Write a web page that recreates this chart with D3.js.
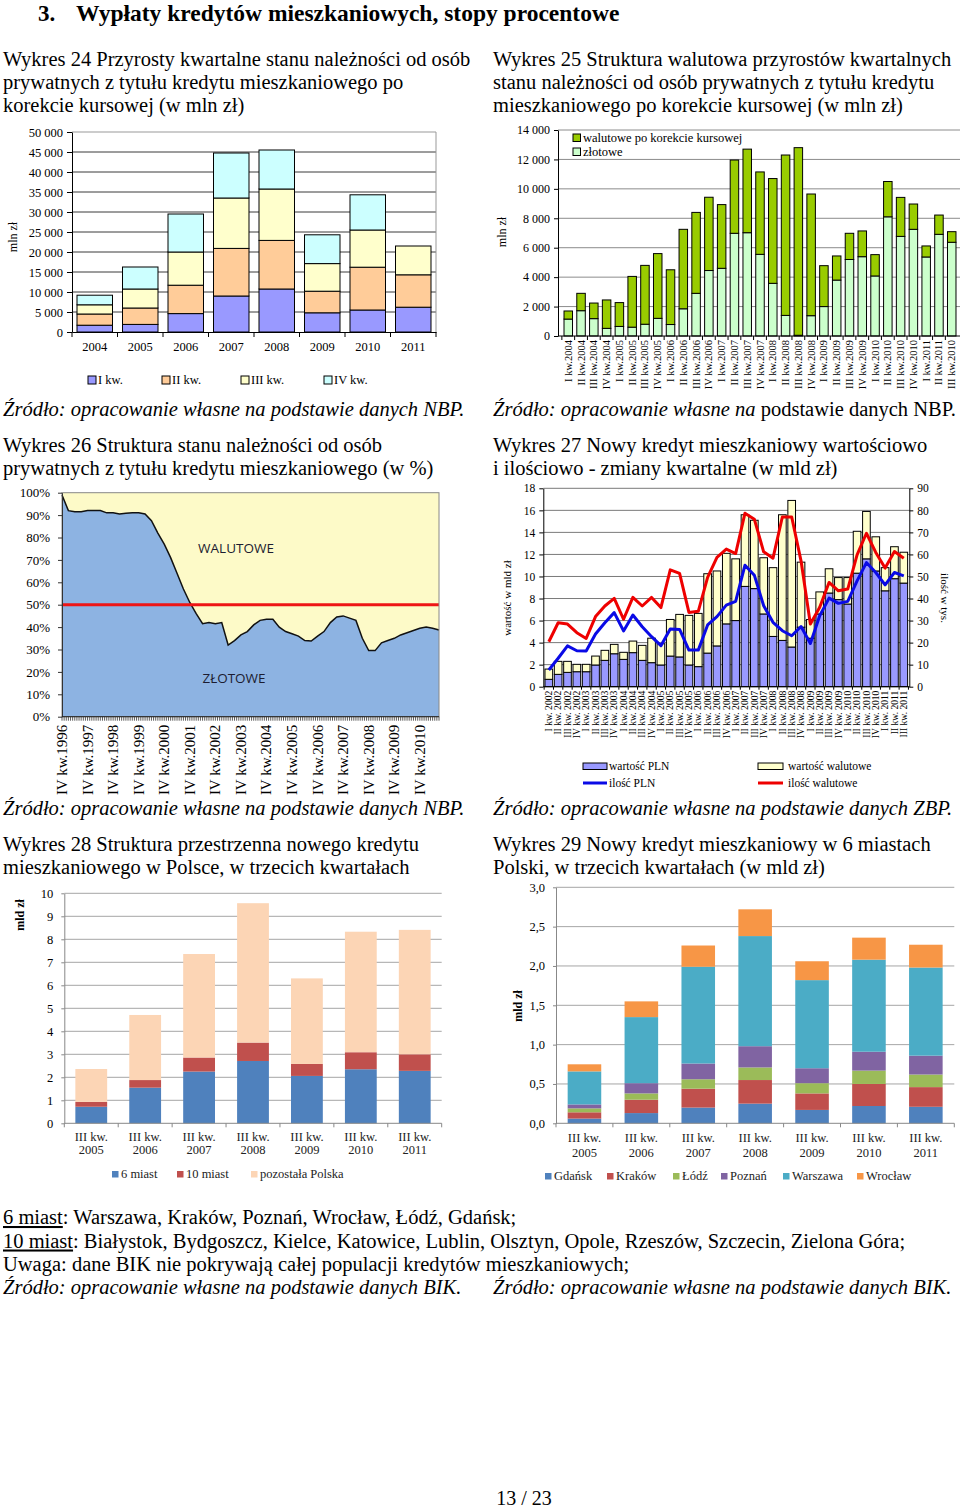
<!DOCTYPE html>
<html><head><meta charset="utf-8">
<script src="https://cdn.jsdelivr.net/npm/d3@7"></script>
<style>
body{margin:0;background:#fff;}
svg{display:block;}
</style></head><body>
<svg id="page" width="960" height="1511"></svg>
<script>
// ---------- DATA ----------
// Wykres 24
const years24 = ["2004","2005","2006","2007","2008","2009","2010","2011"];
const kw1_24 = [1700,1900,4600,9000,10750,4800,5500,6200];
const kw2_24 = [2800,4100,7100,11900,12150,5400,10700,8100];
const kw3_24 = [2300,4750,8300,12600,12850,6900,9300,7200];
const kw4_24 = [2400,5500,9500,11250,9750,7200,8800,0];
const legend24 = ["I kw.","II kw.","III kw.","IV kw."];
const ticks24 = [0,5000,10000,15000,20000,25000,30000,35000,40000,45000,50000];

// Wykres 25
const quarters25 = ["I kw.2004","II kw.2004","III kw.2004","IV kw.2004","I kw.2005","II kw.2005","III kw.2005","IV kw.2005",
  "I kw.2006","II kw.2006","III kw.2006","IV kw.2006","I kw.2007","II kw.2007","III kw.2007","IV kw.2007",
  "I kw.2008","II kw.2008","III kw.2008","IV kw.2008","I kw.2009","II kw.2009","III kw.2009","IV kw.2009",
  "I kw.2010","II kw.2010","III kw.2010","IV kw.2010","I kw.2011","II kw.2011","III kw.2010"];
const zlotowe25 = [1150,1720,1180,520,650,600,800,1200,780,1850,2900,4450,4600,6980,7020,5550,3580,1400,50,1380,2000,3800,5200,5390,4080,8100,6770,7250,5370,6910,6370];
const walutowe25 = [550,1180,1060,1930,1620,3450,4000,4400,3720,5400,5500,4980,4330,4980,5680,5600,7120,10900,12750,8270,2780,1640,1780,1750,1450,2400,2650,1720,750,1310,720];
const legend25 = ["walutowe po korekcie kursowej","złotowe"];
const ticks25 = [0,2000,4000,6000,8000,10000,12000,14000];

// Wykres 26 (udział złotowych, kwartalnie od IV kw.1996)
const zlotowe26 = [99,92,91.5,91.5,92,92,92,91,91,90.5,90.8,91,91,90.5,87.5,82,77,71,64,57,51,46,41.5,42,41.5,42,32,34,36.5,38,41,43,43.5,43.5,40,38,37,36,34,33.8,36,38,42,44.5,45,44,43,35,29.5,29.5,33,34,35,36.5,37.5,38.5,39.5,40,39.5,38.7];
const labels26 = ["IV kw.1996","IV kw.1997","IV kw.1998","IV kw.1999","IV kw.2000","IV kw.2001","IV kw.2002","IV kw.2003","IV kw.2004","IV kw.2005","IV kw.2006","IV kw.2007","IV kw.2008","IV kw.2009","IV kw.2010"];
const ticks26 = [0,10,20,30,40,50,60,70,80,90,100];

// Wykres 27
const quarters27 = ["I kw. 2002","II kw. 2002","III kw. 2002","IV kw. 2002","I kw. 2003","II kw. 2003","III kw. 2003","IV kw. 2003",
  "I kw. 2004","II kw. 2004","III kw. 2004","IV kw. 2004","I kw. 2005","II kw. 2005","III kw. 2005","IV kw. 2005",
  "I kw. 2006","II kw. 2006","III kw. 2006","IV kw. 2006","I kw. 2007","II kw. 2007","III kw. 2007","IV kw. 2007",
  "I kw. 2008","II kw. 2008","III kw. 2008","IV kw. 2008","I kw. 2009","II kw. 2009","III kw. 2009","IV kw. 2009",
  "I kw. 2010","II kw. 2010","III kw. 2010","IV kw. 2010","I kw. 2011","II kw. 2011","III kw. 2011"];
const wartoscPLN27 = [0.67,1.12,1.3,1.36,1.36,1.97,2.39,2.99,2.48,3.09,2.39,2.18,1.97,2.78,2.7,1.97,1.82,3.05,3.7,5.7,6.0,9.1,8.9,6.6,4.56,4.2,3.6,5.4,4.4,6.6,8.5,7.9,7.5,10.3,11.6,10.5,8.7,9.8,9.4];
const wartoscWal27 = [0.93,1.18,1.0,0.67,0.67,0.81,0.91,0.85,0.64,1.05,1.36,2.22,1.93,3.32,3.86,4.5,4.83,7.2,6.8,6.4,5.6,6.5,6.2,5.1,6.24,11.4,13.3,5.9,1.7,2.0,2.2,2.0,2.4,3.8,4.3,3.1,2.1,2.9,2.8];
const iloscPLN27 = [7.6,12.9,18.5,16.3,16.2,23.9,29,33.6,25.3,32.5,27.2,22.7,18.6,26.2,26,16.6,16.6,28,31.8,37,38.7,55.1,50.6,36.7,29.2,25.4,23.1,27.3,19.6,32.2,40.2,37.8,38.7,48,56.3,51.8,46.2,51.8,50.3];
const iloscWal27 = [20.4,29,28.4,24.5,21.9,31.8,36.6,40.1,30.6,40.5,36.6,40.5,35.9,53,51.4,33.7,34.2,49.6,58.7,62.4,60.4,78.7,76,61.2,58.3,77,77,57.1,28.4,36,47.3,43.5,44.3,59.8,69.6,60.9,53.8,61.3,58.3];
const ticksL27 = [0,2,4,6,8,10,12,14,16,18];
const ticksR27 = [0,10,20,30,40,50,60,70,80,90];

// Wykres 28
const years28 = ["2005","2006","2007","2008","2009","2010","2011"];
const miast6_28 = [0.72,1.55,2.25,2.71,2.06,2.35,2.28];
const miast10_28 = [0.21,0.33,0.61,0.80,0.52,0.74,0.72];
const pozostala28 = [1.43,2.83,4.50,6.06,3.72,5.24,5.41];
const legend28 = ["6 miast","10 miast","pozostała Polska"];
const ticks28 = [0,1,2,3,4,5,6,7,8,9,10];

// Wykres 29
const years29 = ["2005","2006","2007","2008","2009","2010","2011"];
const gdansk29 = [0.06,0.13,0.20,0.25,0.17,0.22,0.21];
const krakow29 = [0.08,0.17,0.24,0.30,0.21,0.28,0.25];
const lodz29 = [0.05,0.08,0.12,0.16,0.13,0.17,0.16];
const poznan29 = [0.05,0.13,0.20,0.27,0.19,0.24,0.24];
const warszawa29 = [0.42,0.84,1.23,1.40,1.12,1.17,1.12];
const wroclaw29 = [0.09,0.20,0.27,0.34,0.24,0.28,0.29];
const cities29 = ["Gdańsk","Kraków","Łódź","Poznań","Warszawa","Wrocław"];
const ticks29 = [0,0.5,1,1.5,2,2.5,3];

// ---------- HELPERS ----------
const svg = d3.select("#page");
const SERIF = '"Liberation Serif","Times New Roman",serif';
const SANS = '"Open Sans","Liberation Sans",sans-serif';
const loc = d3.formatLocale({decimal:",", thousands:" ", grouping:[3], currency:["",""]});
const fmtSpace = loc.format(",d");
const fmtComma = loc.format(".1f");

function T(x,y,s,o={}) {
  const t = svg.append("text").attr("x",x).attr("y",y)
    .attr("font-family", o.family||SERIF).attr("font-size", o.size||18)
    .attr("fill", o.fill||"#000");
  if (o.anchor) t.attr("text-anchor", o.anchor);
  if (o.italic) t.attr("font-style","italic");
  if (o.bold) t.attr("font-weight","bold");
  if (o.rotate) t.attr("transform", `rotate(${o.rotate},${x},${y})`);
  t.text(s);
  return t;
}
function styleAxis(g, size, color) {
  g.attr("font-family", SERIF).attr("font-size", size);
  g.selectAll("text").attr("fill","#000");
  g.selectAll("line").attr("stroke", color);
  g.select(".domain").attr("stroke", color);
}

// ---------- PAGE TEXT ----------
const FS = 20.5;
T(38,20.5,"3.",{size:23,bold:true});
T(76,20.5,"Wypłaty kredytów mieszkaniowych, stopy procentowe",{size:23.5,bold:true});

T(3,65.5,"Wykres 24 Przyrosty kwartalne stanu należności od osób",{size:FS});
T(3,88.5,"prywatnych z tytułu kredytu mieszkaniowego po",{size:FS});
T(3,111.5,"korekcie kursowej (w mln zł)",{size:FS});
T(493,65.5,"Wykres 25 Struktura walutowa przyrostów kwartalnych",{size:FS});
T(493,88.5,"stanu należności od osób prywatnych z tytułu kredytu",{size:FS});
T(493,111.5,"mieszkaniowego po korekcie kursowej (w mln zł)",{size:FS});

T(3,416,"Źródło: opracowanie własne na podstawie danych NBP.",{size:FS,italic:true});
{
  const t = T(493,416,"",{size:FS});
  t.append("tspan").attr("font-style","italic").text("Źródło: opracowanie własne na");
  t.append("tspan").text(" podstawie danych NBP.");
}

T(3,452,"Wykres 26 Struktura stanu należności od osób",{size:FS});
T(3,475,"prywatnych z tytułu kredytu mieszkaniowego (w %)",{size:FS});
T(493,452,"Wykres 27 Nowy kredyt mieszkaniowy wartościowo",{size:FS});
T(493,475,"i ilościowo - zmiany kwartalne (w mld zł)",{size:FS});

T(3,815,"Źródło: opracowanie własne na podstawie danych NBP.",{size:FS,italic:true});
T(493,815,"Źródło: opracowanie własne na podstawie danych ZBP.",{size:FS,italic:true});

T(3,851,"Wykres 28 Struktura przestrzenna nowego kredytu",{size:FS});
T(3,874,"mieszkaniowego w Polsce, w trzecich kwartałach",{size:FS});
T(493,851,"Wykres 29 Nowy kredyt mieszkaniowy w 6 miastach",{size:FS});
T(493,874,"Polski, w trzecich kwartałach (w mld zł)",{size:FS});

{
  const t1 = T(3,1224,"",{size:FS});
  t1.append("tspan").attr("text-decoration","underline").text("6 miast");
  t1.append("tspan").text(": Warszawa, Kraków, Poznań, Wrocław, Łódź, Gdańsk;");
  const t2 = T(3,1247.5,"",{size:FS});
  t2.append("tspan").attr("text-decoration","underline").text("10 miast");
  t2.append("tspan").text(": Białystok, Bydgoszcz, Kielce, Katowice, Lublin, Olsztyn, Opole, Rzeszów, Szczecin, Zielona Góra;");
}
T(3,1271,"Uwaga: dane BIK nie pokrywają całej populacji kredytów mieszkaniowych;",{size:FS});
T(3,1294,"Źródło: opracowanie własne na podstawie danych BIK.",{size:FS,italic:true});
T(493,1294,"Źródło: opracowanie własne na podstawie danych BIK.",{size:FS,italic:true});
T(524,1505,"13 / 23",{size:20,anchor:"middle"});

// ---------- WYKRES 24 ----------
{
  const L=72,R=436,TP=132,B=332;
  const g = svg.append("g");
  const x = d3.scaleBand().domain(years24).range([L,R]).paddingInner(0.22).paddingOuter(0.11);
  const y = d3.scaleLinear().domain([0,50000]).range([B,TP]);
  g.append("g").selectAll("line").data(ticks24.slice(1)).join("line")
    .attr("x1",L).attr("x2",R).attr("y1",d=>y(d)).attr("y2",d=>y(d))
    .attr("stroke",d=>d===50000?"#999":"#3a3a3a").attr("stroke-width",1);
  g.append("line").attr("x1",R).attr("x2",R).attr("y1",TP).attr("y2",B).attr("stroke","#999");
  const rows = years24.map((yr,i)=>({yr, k1:kw1_24[i], k2:kw2_24[i], k3:kw3_24[i], k4:kw4_24[i]}));
  const st = d3.stack().keys(["k1","k2","k3","k4"])(rows);
  const cols = ["#9999ff","#ffcc99","#ffffcc","#ccffff"];
  st.forEach((s,si)=>{
    g.append("g").selectAll("rect").data(s.filter(d=>d[1]>d[0])).join("rect")
      .attr("x",d=>x(d.data.yr)).attr("width",x.bandwidth())
      .attr("y",d=>y(d[1])).attr("height",d=>y(d[0])-y(d[1]))
      .attr("fill",cols[si]).attr("stroke","#000").attr("stroke-width",1);
  });
  const ya = g.append("g").attr("transform",`translate(${L},0)`)
    .call(d3.axisLeft(y).tickValues(ticks24).tickFormat(fmtSpace).tickSize(5).tickPadding(4).tickSizeOuter(0));
  styleAxis(ya,12.5,"#000");
  const xa = g.append("g").attr("transform",`translate(0,${B})`)
    .call(d3.axisBottom(x).tickSize(0).tickPadding(10).tickSizeOuter(0));
  styleAxis(xa,12.5,"#000");
  g.append("g").selectAll("line").data(d3.range(years24.length+1)).join("line")
    .attr("x1",i=>L+i*x.step()).attr("x2",i=>L+i*x.step()).attr("y1",B).attr("y2",B+5).attr("stroke","#000");
  T(17,237,"mln zł",{size:12,anchor:"middle",rotate:-90});
  const lx = [88,162,241,324];
  legend24.forEach((s,i)=>{
    g.append("rect").attr("x",lx[i]).attr("y",376).attr("width",8).attr("height",8).attr("fill",cols[i]).attr("stroke","#000");
    T(lx[i]+10,384,s,{size:12.5});
  });
}

// ---------- WYKRES 25 ----------
{
  const L=558,R=962,TP=130,B=336;
  const g = svg.append("g");
  const x = d3.scaleBand().domain(d3.range(quarters25.length)).range([L,R]).paddingInner(0.335).paddingOuter(0.47);
  const y = d3.scaleLinear().domain([0,14000]).range([B,TP]);
  g.append("g").selectAll("line").data(ticks25.slice(1)).join("line")
    .attr("x1",L).attr("x2",960).attr("y1",d=>y(d)).attr("y2",d=>y(d))
    .attr("stroke","#8c8c8c").attr("stroke-width",1);
  const rows = quarters25.map((q,i)=>({i, zl:zlotowe25[i], wal:walutowe25[i]}));
  const st = d3.stack().keys(["zl","wal"])(rows);
  const cols = ["#ccffcc","#99cc00"];
  st.forEach((s,si)=>{
    g.append("g").selectAll("rect").data(s.filter(d=>d[1]>d[0])).join("rect")
      .attr("x",d=>x(d.data.i)).attr("width",x.bandwidth())
      .attr("y",d=>y(d[1])).attr("height",d=>y(d[0])-y(d[1]))
      .attr("fill",cols[si]).attr("stroke","#000").attr("stroke-width",1);
  });
  const ya = g.append("g").attr("transform",`translate(${L},0)`)
    .call(d3.axisLeft(y).tickValues(ticks25).tickFormat(fmtSpace).tickSize(4).tickPadding(4).tickSizeOuter(0));
  styleAxis(ya,12,"#000");
  g.append("line").attr("x1",L).attr("x2",960).attr("y1",B).attr("y2",B).attr("stroke","#000");
  g.append("g").selectAll("line").data(d3.range(quarters25.length)).join("line")
    .attr("x1",i=>x(i)-x.step()*x.paddingInner()/2).attr("x2",i=>x(i)-x.step()*x.paddingInner()/2)
    .attr("y1",B).attr("y2",B+4).attr("stroke","#000");
  g.append("g").selectAll("text").data(quarters25).join("text")
    .attr("transform",(d,i)=>`translate(${x(i)+x.bandwidth()/2+3.5},${B+4}) rotate(-90)`)
    .attr("text-anchor","end").attr("font-family",SERIF).attr("font-size",10.5).text(d=>d);
  T(506,232,"mln zł",{size:12,anchor:"middle",rotate:-90});
  const lc = [cols[1],cols[0]];
  legend25.forEach((s,i)=>{
    g.append("rect").attr("x",573).attr("y",134+i*14).attr("width",7.5).attr("height",7.5).attr("fill",lc[i]).attr("stroke","#000");
    T(583,142+i*14,s,{size:12.5});
  });
}

// ---------- WYKRES 26 ----------
{
  const L=62,R=439,TP=492.7,B=716.7;
  const g = svg.append("g");
  const x = d3.scaleLinear().domain([0,zlotowe26.length-1]).range([L,R]);
  const y = d3.scaleLinear().domain([0,100]).range([B,TP]);
  g.append("rect").attr("x",L).attr("y",TP).attr("width",R-L).attr("height",B-TP).attr("fill","#fdfac8");
  g.append("path").datum(zlotowe26)
    .attr("d",d3.area().x((d,i)=>x(i)).y0(B).y1(d=>y(d)))
    .attr("fill","#8db3e2");
  g.append("path").datum(zlotowe26)
    .attr("d",d3.line().x((d,i)=>x(i)).y(d=>y(d)))
    .attr("fill","none").attr("stroke","#111").attr("stroke-width",1.5);
  g.append("line").attr("x1",L).attr("x2",R).attr("y1",y(50)).attr("y2",y(50)).attr("stroke","#ee1515").attr("stroke-width",3);
  g.append("rect").attr("x",L).attr("y",TP).attr("width",R-L).attr("height",B-TP).attr("fill","none").attr("stroke","#888");
  const ya = g.append("g").attr("transform",`translate(${L},0)`)
    .call(d3.axisLeft(y).tickValues(ticks26).tickFormat(d=>d+"%").tickSize(4).tickPadding(8).tickSizeOuter(0));
  styleAxis(ya,13,"#333");
  g.append("line").attr("x1",L).attr("x2",R).attr("y1",B).attr("y2",B).attr("stroke","#222");
  g.append("g").selectAll("line").data(d3.range(0,zlotowe26.length-1+0.001,1/3)).join("line")
    .attr("x1",d=>x(d)).attr("x2",d=>x(d)).attr("y1",B).attr("y2",B+4).attr("stroke","#333").attr("stroke-width",0.8);
  g.append("g").selectAll("text").data(labels26).join("text")
    .attr("transform",(d,i)=>`translate(${x(i*4)+5},${B+8}) rotate(-90)`)
    .attr("text-anchor","end").attr("font-family",SERIF).attr("font-size",15).text(d=>d);
  T(236,553,"WALUTOWE",{size:13.5,family:SANS,anchor:"middle",fill:"#1c1c30"});
  T(234,683,"ZŁOTOWE",{size:13.5,family:SANS,anchor:"middle",fill:"#1c1c30"});
}

// ---------- WYKRES 27 ----------
{
  const L=543.3,R=909.3,TP=488.3,B=686.7;
  const g = svg.append("g");
  const x = d3.scaleBand().domain(d3.range(quarters27.length)).range([L,R]).paddingInner(0.18).paddingOuter(0.18);
  const yL = d3.scaleLinear().domain([0,18]).range([B,TP]);
  const yR = d3.scaleLinear().domain([0,90]).range([B,TP]);
  g.append("g").selectAll("line").data(ticksL27.slice(1)).join("line")
    .attr("x1",L).attr("x2",R).attr("y1",d=>yL(d)).attr("y2",d=>yL(d))
    .attr("stroke","#7a7a7a").attr("stroke-width",1);
  const rows = quarters27.map((q,i)=>({i, pln:wartoscPLN27[i], wal:wartoscWal27[i]}));
  const st = d3.stack().keys(["pln","wal"])(rows);
  const cols = ["#9999ff","#ffffcc"];
  st.forEach((s,si)=>{
    g.append("g").selectAll("rect").data(s).join("rect")
      .attr("x",d=>x(d.data.i)).attr("width",x.bandwidth())
      .attr("y",d=>yL(d[1])).attr("height",d=>yL(d[0])-yL(d[1]))
      .attr("fill",cols[si]).attr("stroke","#000").attr("stroke-width",1);
  });
  const line = d3.line().x((d,i)=>x(i)+x.bandwidth()/2).y(d=>yR(d));
  g.append("path").datum(iloscWal27).attr("d",line).attr("fill","none").attr("stroke","#ee0000").attr("stroke-width",3).attr("stroke-linejoin","round");
  g.append("path").datum(iloscPLN27).attr("d",line).attr("fill","none").attr("stroke","#0a0ae6").attr("stroke-width",3).attr("stroke-linejoin","round");
  const ya = g.append("g").attr("transform",`translate(${L},0)`)
    .call(d3.axisLeft(yL).tickValues(ticksL27).tickSize(4).tickPadding(4).tickSizeOuter(0));
  styleAxis(ya,11.5,"#000");
  const yb = g.append("g").attr("transform",`translate(${R},0)`)
    .call(d3.axisRight(yR).tickValues(ticksR27).tickSize(4).tickPadding(4).tickSizeOuter(0));
  styleAxis(yb,11.5,"#000");
  g.append("line").attr("x1",L).attr("x2",R).attr("y1",B).attr("y2",B).attr("stroke","#000");
  g.append("g").selectAll("line").data(d3.range(quarters27.length+1)).join("line")
    .attr("x1",i=>L+x.step()*x.paddingOuter()+i*x.step()-x.step()*x.paddingInner()/2)
    .attr("x2",i=>L+x.step()*x.paddingOuter()+i*x.step()-x.step()*x.paddingInner()/2)
    .attr("y1",B).attr("y2",B+3).attr("stroke","#000");
  g.append("g").selectAll("text").data(quarters27).join("text")
    .attr("transform",(d,i)=>`translate(${x(i)+x.bandwidth()/2+3.2},${B+4}) rotate(-90)`)
    .attr("text-anchor","end").attr("font-family",SERIF).attr("font-size",9.6).text(d=>d);
  T(511,598,"wartość w mld zł",{size:11,anchor:"middle",rotate:-90});
  T(941,598,"ilość w tys.",{size:11,anchor:"middle",rotate:90});
  // legend
  g.append("rect").attr("x",583).attr("y",763).attr("width",24).attr("height",6.5).attr("fill","#9999ff").attr("stroke","#000");
  T(609,770,"wartość PLN",{size:11.5});
  g.append("line").attr("x1",583).attr("x2",607).attr("y1",783).attr("y2",783).attr("stroke","#0a0ae6").attr("stroke-width",3);
  T(609,787,"ilość PLN",{size:11.5});
  g.append("rect").attr("x",758).attr("y",763).attr("width",25).attr("height",6.5).attr("fill","#ffffcc").attr("stroke","#000");
  T(788,770,"wartość walutowe",{size:11.5});
  g.append("line").attr("x1",758).attr("x2",783).attr("y1",783).attr("y2",783).attr("stroke","#ee0000").attr("stroke-width",3);
  T(788,787,"ilość walutowe",{size:11.5});
}

// ---------- WYKRES 28 ----------
{
  const L=64.3,R=441.7,TP=893.3,B=1123.3;
  const g = svg.append("g");
  const x = d3.scaleBand().domain(years28).range([L,R]).paddingInner(0.41).paddingOuter(0.205);
  const y = d3.scaleLinear().domain([0,10]).range([B,TP]);
  g.append("g").selectAll("line").data(ticks28.slice(1)).join("line")
    .attr("x1",L).attr("x2",R).attr("y1",d=>y(d)).attr("y2",d=>y(d))
    .attr("stroke","#a6a6a6").attr("stroke-width",1);
  const rows = years28.map((yr,i)=>({yr, a:miast6_28[i], b:miast10_28[i], c:pozostala28[i]}));
  const st = d3.stack().keys(["a","b","c"])(rows);
  const cols = ["#4f81bd","#c0504d","#fcd5b5"];
  st.forEach((s,si)=>{
    g.append("g").selectAll("rect").data(s).join("rect")
      .attr("x",d=>x(d.data.yr)).attr("width",x.bandwidth())
      .attr("y",d=>y(d[1])).attr("height",d=>y(d[0])-y(d[1]))
      .attr("fill",cols[si]);
  });
  const ya = g.append("g").attr("transform",`translate(${L},0)`)
    .call(d3.axisLeft(y).tickValues(ticks28).tickSize(3).tickPadding(8).tickSizeOuter(0));
  styleAxis(ya,12.5,"#888");
  g.append("line").attr("x1",L).attr("x2",R).attr("y1",B).attr("y2",B).attr("stroke","#888");
  g.append("g").selectAll("line").data(d3.range(years28.length+1)).join("line")
    .attr("x1",i=>L+i*x.step()).attr("x2",i=>L+i*x.step()).attr("y1",B).attr("y2",B+4).attr("stroke","#888");
  g.append("g").selectAll("text").data(years28).join("text")
    .attr("x",d=>x(d)+x.bandwidth()/2).attr("y",B+18).attr("text-anchor","middle")
    .attr("font-family",SERIF).attr("font-size",12.5).attr("fill","#222").text("III kw.");
  g.append("g").selectAll("text").data(years28).join("text")
    .attr("x",d=>x(d)+x.bandwidth()/2).attr("y",B+31).attr("text-anchor","middle")
    .attr("font-family",SERIF).attr("font-size",12.5).attr("fill","#222").text(d=>d);
  T(24,915,"mld zł",{size:12,bold:true,anchor:"middle",rotate:-90});
  const lx = [112,177,251];
  legend28.forEach((s,i)=>{
    g.append("rect").attr("x",lx[i]).attr("y",1171).attr("width",6.5).attr("height",6.5).attr("fill",cols[i]);
    T(lx[i]+9,1178,s,{size:12.5,fill:"#222"});
  });
}

// ---------- WYKRES 29 ----------
{
  const L=556,R=954.3,TP=887.3,B=1123.3;
  const g = svg.append("g");
  const x = d3.scaleBand().domain(years29).range([L,R]).paddingInner(0.41).paddingOuter(0.205);
  const y = d3.scaleLinear().domain([0,3]).range([B,TP]);
  g.append("g").selectAll("line").data(ticks29.slice(1)).join("line")
    .attr("x1",L).attr("x2",R).attr("y1",d=>y(d)).attr("y2",d=>y(d))
    .attr("stroke","#a6a6a6").attr("stroke-width",1);
  const series = [gdansk29,krakow29,lodz29,poznan29,warszawa29,wroclaw29];
  const keys = ["g","k","l","p","w","r"];
  const rows = years29.map((yr,i)=>{const o={yr}; keys.forEach((k,j)=>o[k]=series[j][i]); return o;});
  const st = d3.stack().keys(keys)(rows);
  const cols = ["#4f81bd","#c0504d","#9bbb59","#8064a2","#4bacc6","#f79646"];
  st.forEach((s,si)=>{
    g.append("g").selectAll("rect").data(s).join("rect")
      .attr("x",d=>x(d.data.yr)).attr("width",x.bandwidth())
      .attr("y",d=>y(d[1])).attr("height",d=>y(d[0])-y(d[1]))
      .attr("fill",cols[si]);
  });
  const ya = g.append("g").attr("transform",`translate(${L},0)`)
    .call(d3.axisLeft(y).tickValues(ticks29).tickFormat(fmtComma).tickSize(3).tickPadding(8).tickSizeOuter(0));
  styleAxis(ya,12.5,"#888");
  g.append("line").attr("x1",L).attr("x2",R).attr("y1",B).attr("y2",B).attr("stroke","#888");
  g.append("g").selectAll("line").data(d3.range(years29.length+1)).join("line")
    .attr("x1",i=>L+i*x.step()).attr("x2",i=>L+i*x.step()).attr("y1",B).attr("y2",B+4).attr("stroke","#888");
  g.append("g").selectAll("text").data(years29).join("text")
    .attr("x",d=>x(d)+x.bandwidth()/2).attr("y",B+19).attr("text-anchor","middle")
    .attr("font-family",SERIF).attr("font-size",12.5).attr("fill","#222").text("III kw.");
  g.append("g").selectAll("text").data(years29).join("text")
    .attr("x",d=>x(d)+x.bandwidth()/2).attr("y",B+34).attr("text-anchor","middle")
    .attr("font-family",SERIF).attr("font-size",12.5).attr("fill","#222").text(d=>d);
  T(522,1006,"mld zł",{size:12,bold:true,anchor:"middle",rotate:-90});
  const lx = [545,607,673,721,783,857];
  cities29.forEach((s,i)=>{
    g.append("rect").attr("x",lx[i]).attr("y",1173).attr("width",6.5).attr("height",6.5).attr("fill",cols[i]);
    T(lx[i]+9,1180,s,{size:12.5,fill:"#222"});
  });
}
</script>
</body></html>
